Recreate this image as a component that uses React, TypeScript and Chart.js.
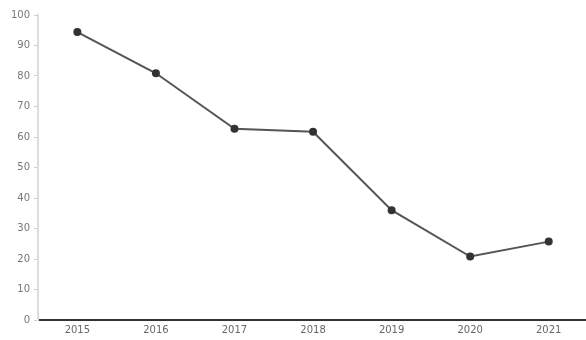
import React, { useEffect, useRef } from "react";
import { Chart, registerables } from "chart.js";

Chart.register(...registerables);

const categories = ["2015", "2016", "2017", "2018", "2019", "2020", "2021"];
const values = [94.4, 80.9, 62.7, 61.7, 36.0, 20.8, 25.7];
const yMin = 0;
const yMax = 100;
const yStep = 10;

export default function App() {
  const ref = useRef<HTMLCanvasElement | null>(null);
  useEffect(() => {
    document.body.style.margin = "0";
    const ctx = ref.current!.getContext("2d")!;
    const chart = new Chart(ctx, {
      type: "line",
      data: {
        labels: categories,
        datasets: [
          {
            data: values,
            borderColor: "#555",
            backgroundColor: "#333",
            borderWidth: 2,
            pointRadius: 3,
            pointBackgroundColor: "#333",
            pointBorderColor: "#333",
            tension: 0,
          },
        ],
      },
      options: {
        animation: false,
        responsive: false,
        maintainAspectRatio: false,
        layout: { padding: { top: 15, right: 0, left: 7, bottom: 0 } },
        plugins: { legend: { display: false }, tooltip: { enabled: false } },
        scales: {
          x: {
            offset: true,
            grid: { display: false, drawTicks: false },
            border: { display: true, color: "#333", width: 2 },
            ticks: { color: "#666", font: { family: "DejaVu Sans", size: 10 }, padding: 4 },
          },
          y: {
            min: yMin,
            max: yMax,
            ticks: { stepSize: yStep, color: "#777", font: { family: "DejaVu Sans", size: 10 }, padding: 4 },
            grid: { drawOnChartArea: false, drawTicks: true, tickLength: 4, color: "#ccc" },
            border: { display: true, color: "#ddd", width: 2 },
          },
        },
      },
    });
    return () => chart.destroy();
  }, []);
  return (
    <div style={{ width: 586, height: 340, overflow: "hidden" }}>
      <canvas ref={ref} width={594} height={340} style={{ display: "block" }} />
    </div>
  );
}
